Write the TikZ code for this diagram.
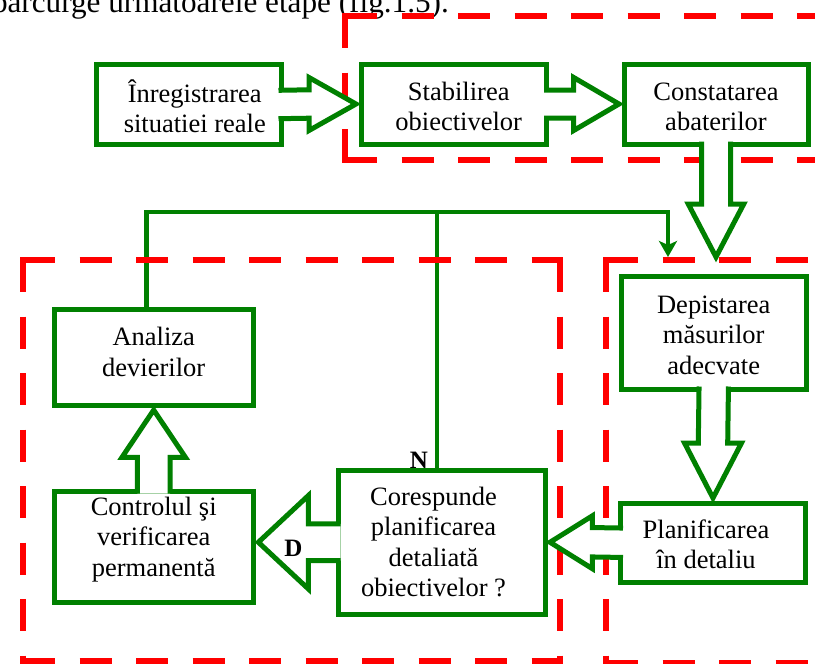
\documentclass[tikz,border=0pt]{standalone}
\usepackage{fontspec}
\setmainfont{Liberation Serif}
\usetikzlibrary{calc,arrows.meta}
\definecolor{flowgreen}{RGB}{0,128,0}
\definecolor{zonered}{RGB}{255,0,0}

% Hollow block arrow from anchor #1 towards anchor #2.
% #3,#4: unit direction; #5: half shaft width; #6: half head width;
% #7: distance from #2 back to the head base.
\newcommand{\blockarrow}[7]{%
  \coordinate (ba1) at ($(#1)+({-2.5*(#3)-(#5)*(#4)},{-2.5*(#4)+(#5)*(#3)})$);
  \coordinate (ba2) at ($(#2)+({-(#7)*(#3)-(#5)*(#4)},{-(#7)*(#4)+(#5)*(#3)})$);
  \coordinate (ba3) at ($(#2)+({-(#7)*(#3)-(#6)*(#4)},{-(#7)*(#4)+(#6)*(#3)})$);
  \coordinate (ba4) at ($(#2)+({-5*(#3)},{-5*(#4)})$);
  \coordinate (ba5) at ($(#2)+({-(#7)*(#3)+(#6)*(#4)},{-(#7)*(#4)-(#6)*(#3)})$);
  \coordinate (ba6) at ($(#2)+({-(#7)*(#3)+(#5)*(#4)},{-(#7)*(#4)-(#5)*(#3)})$);
  \coordinate (ba7) at ($(#1)+({-2.5*(#3)+(#5)*(#4)},{-2.5*(#4)-(#5)*(#3)})$);
  \fill[white] (ba1) -- (ba2) -- (ba3) -- (ba4) -- (ba5) -- (ba6) -- (ba7) -- cycle;
  \draw[bkline] (ba1) -- (ba2) -- (ba3) -- (ba4) -- (ba5) -- (ba6) -- (ba7);
}

\begin{document}
\begin{tikzpicture}[x=1pt,y=-1pt,
  box/.style={draw=flowgreen, line width=5pt, fill=white, inner sep=0pt, outer sep=0pt},
  boxtext/.style={anchor=base, align=center, inner sep=0pt,
    font=\fontsize{26.5pt}{30.5pt}\selectfont},
  zone/.style={draw=zonered, line width=6.5pt, dash pattern=on 32pt off 24.5pt},
  zonecorner/.style={fill=zonered},
  link/.style={draw=flowgreen, line width=4.5pt, line join=miter},
  bkline/.style={draw=flowgreen, line width=5pt, line join=miter, line cap=butt},
  yesno/.style={inner sep=0pt, font=\bfseries\fontsize{25pt}{25pt}\selectfont}
]
\useasboundingbox (0,0) rectangle (815,664);

% running text above the figure
\node[anchor=base east, inner sep=0pt, font=\fontsize{31.2pt}{34pt}\selectfont]
  (intro) at (449,12.5) {parcurge urmatoarele etape (fig.1.5).};

% process boxes
\node[box, minimum width=184.5pt, minimum height=80pt]   (b1) at (188.75,104.5) {};
\node[box, minimum width=185.5pt, minimum height=80pt]   (b2) at (453.75,104) {};
\node[box, minimum width=184pt,   minimum height=80pt]   (b3) at (716,104) {};
\node[box, minimum width=184.5pt, minimum height=112.5pt] (b4) at (713.75,332.75) {};
\node[box, minimum width=185pt,   minimum height=79.5pt] (b5) at (713,542.75) {};
\node[box, minimum width=207pt,   minimum height=144.5pt] (b6) at (441.5,542.25) {};
\node[box, minimum width=199.3pt, minimum height=111.5pt] (b7) at (153.7,546.75) {};
\node[box, minimum width=199.3pt, minimum height=96pt]   (b8) at (153.7,357) {};

% feedback lines
\coordinate (fbtop) at (668,212);
\coordinate (fbend) at (668,257);
\coordinate (njoin) at (437,212);
\draw[link, -{Stealth[length=16pt,width=18pt,inset=4pt]}]
  ($(b8.north)+(-7,0)$) |- (fbtop) -- (fbend);
\draw[link] (njoin) -- (njoin |- b6.north);

% dashed zones
\draw[zone] (345,16) -- (830,16);
\draw[zone] (345,16) -- (345,160);
\draw[zone] (345,160) -- (830,160);
\fill[zonecorner] (345,16) +(-3.25,-3.25) rectangle +(3.25,3.25);
\fill[zonecorner] (345,160) +(-3.25,-3.25) rectangle +(3.25,3.25);

\draw[zone] (23,260) -- (560,260);
\draw[zone] (23,260) -- (23,661.5);
\draw[zone] (560,260) -- (560,661.5);
\draw[zone] (23,661.5) -- (560,661.5);
\foreach \c in {(23,260),(560,260),(23,661.5),(560,661.5)}
  \fill[zonecorner] \c +(-3.25,-3.25) rectangle +(3.25,3.25);

\draw[zone] (606,260) -- (830,260);
\draw[zone] (606,260) -- (606,663);
\draw[zone] (606,663) -- (830,663);
\fill[zonecorner] (606,260) +(-3.25,-3.25) rectangle +(3.25,3.25);
\fill[zonecorner] (606,663) +(-3.25,-3.25) rectangle +(3.25,3.25);

% block arrows between the boxes
\blockarrow{b1.east}{b2.west}{1}{0}{14.2}{26.5}{52}
\blockarrow{b2.east}{b3.west}{1}{0}{14}{26.5}{50.3}
\coordinate (cEnd) at ($(b3.south)+(0,118)$);
\blockarrow{b3.south}{cEnd}{0}{1}{14.5}{27.75}{58}
\blockarrow{b4.south}{b5.north}{0}{1}{14.7}{28.5}{60}
\blockarrow{b5.west}{b6.east}{-1}{0}{14.7}{26.4}{47.3}
\coordinate (fT) at (b7.east |- b6.west);
\blockarrow{b6.west}{fT}{-1}{0}{18.3}{46.7}{55}
\blockarrow{b7.north}{b8.south}{0}{-1}{16.3}{31.7}{52.3}

% box texts (anchored at the baseline of the last line)
\node[boxtext] (t1) at ($(b1.north)+(6,68)$) {Înregistrarea\\situatiei reale};
\node[boxtext] (t2) at ($(b2.north)+(5,66.5)$) {Stabilirea\\obiectivelor};
\node[boxtext] (t3) at ($(b3.north)+(0,66.5)$) {Constatarea\\abaterilor};
\node[boxtext] (t4) at ($(b4.north)+(0,97.5)$) {Depistarea\\măsurilor\\adecvate};
\node[boxtext] (t5) at ($(b5.north)+(-7,65.8)$) {Planificarea\\în detaliu};
\node[boxtext] (t6) at ($(b6.north)+(-8,126.5)$) {Corespunde\\planificarea\\detaliată\\obiectivelor ?};
\node[boxtext] (t7) at ($(b7.north)+(0,85)$) {Controlul şi\\verificarea\\permanentă};
\node[boxtext] (t8) at ($(b8.north)+(0,67.2)$) {Analiza\\devierilor};

% decision labels
\node[yesno] (lblN) at (419,460) {N};
\node[yesno] (lblD) at (293.3,548) {D};
\end{tikzpicture}
\end{document}
